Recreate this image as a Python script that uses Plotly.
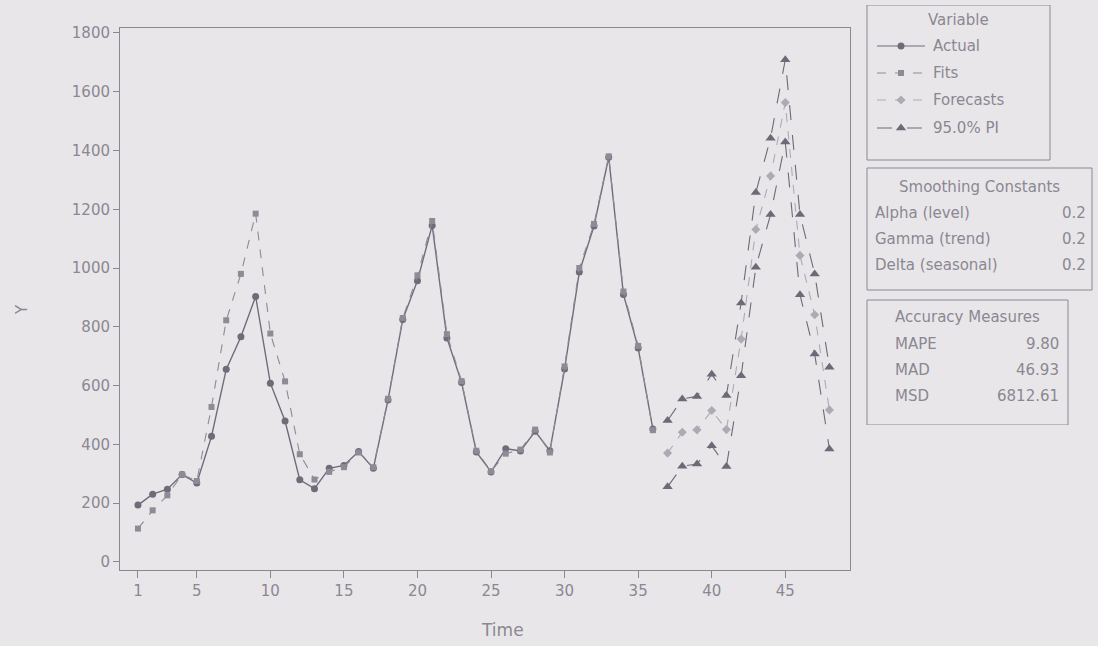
import plotly.graph_objects as go

# ---------------- data ----------------
time_hist = list(range(1, 37))
actual = [193, 230, 247, 297, 268, 427, 655, 766, 903, 608, 479, 279,
          249, 318, 328, 375, 318, 551, 825, 957, 1145, 762, 610, 374,
          306, 385, 377, 444, 378, 656, 986, 1143, 1377, 910, 728, 452]
fits = [113, 175, 226, 297, 275, 527, 822, 980, 1185, 777, 614, 366,
        280, 306, 322, 372, 322, 555, 830, 975, 1160, 775, 615, 378,
        308, 368, 382, 450, 372, 665, 1000, 1150, 1380, 920, 735, 448]

time_fc = list(range(37, 49))
forecasts = [370, 441, 449, 515, 450, 758, 1131, 1313, 1563, 1043, 841, 517]
pi_upper = [481, 554, 563, 638, 566, 881, 1257, 1442, 1709, 1182, 980, 662]
pi_lower = [255, 325, 333, 395, 324, 633, 1003, 1182, 1429, 909, 707, 384]

x_ticks = [1, 5, 10, 15, 20, 25, 30, 35, 40, 45]
y_ticks = [0, 200, 400, 600, 800, 1000, 1200, 1400, 1600, 1800]

smoothing = [("Alpha (level)", "0.2"), ("Gamma (trend)", "0.2"), ("Delta (seasonal)", "0.2")]
accuracy = [("MAPE", "9.80"), ("MAD", "46.93"), ("MSD", "6812.61")]

# ---------------- styles ----------------
BG = "#e9e6ea"
GRID = "#8a8890"
TXT = "#8a8891"
FONT = "DejaVu Sans"
C_ACT = "#6e6c78"
C_FIT = "#8e8a96"
C_FC = "#aeaab4"
C_PI = "#6c6a76"

fig = go.Figure()

# main traces
fig.add_trace(go.Scatter(x=time_hist, y=actual, mode="lines+markers", name="Actual",
                         line=dict(color=C_ACT, width=1.4),
                         marker=dict(symbol="circle", size=7, color=C_ACT)))
fig.add_trace(go.Scatter(x=time_hist, y=fits, mode="lines+markers", name="Fits",
                         line=dict(color=C_FIT, width=1.1, dash="dash"),
                         marker=dict(symbol="square", size=6, color=C_FIT)))
fig.add_trace(go.Scatter(x=time_fc, y=forecasts, mode="lines+markers", name="Forecasts",
                         line=dict(color=C_FC, width=1.1, dash="dash"),
                         marker=dict(symbol="diamond", size=7, color=C_FC)))
fig.add_trace(go.Scatter(x=time_fc, y=pi_upper, mode="lines+markers", name="95.0% PI",
                         line=dict(color=C_PI, width=1.1, dash="longdash"),
                         marker=dict(symbol="triangle-up", size=9, color=C_PI)))
fig.add_trace(go.Scatter(x=time_fc, y=pi_lower, mode="lines+markers", name="95.0% PI",
                         line=dict(color=C_PI, width=1.1, dash="longdash"),
                         marker=dict(symbol="triangle-up", size=9, color=C_PI)))

# ---------------- side panels (pixel-like coordinates on x2/y2) ----------------
W, H = 1098, 646
ML, MR, MT, MB = 120, 2, 5, 76
PW, PH = W - ML - MR, H - MT - MB
plot_right, plot_top, plot_bottom = 850, 28, 570

def px_x(px):
    return (px - ML) / PW

def px_y(py):
    return (H - MB - py) / PH

panel_x0, panel_x1 = 860, 1094
panel_y0, panel_y1 = 5, 425

legend_rows = [
    ("Actual", C_ACT, "circle", 7, "solid", 46),
    ("Fits", C_FIT, "square", 6, "dash", 73),
    ("Forecasts", C_FC, "diamond", 7, "dash", 100),
    ("95.0% PI", C_PI, "triangle-up", 9, "longdash", 128),
]
for label, col, sym, sz, dash, yy in legend_rows:
    fig.add_trace(go.Scatter(x=[877, 925], y=[yy, yy], mode="lines", xaxis="x2", yaxis="y2",
                             line=dict(color=col, width=1.2, dash=dash), showlegend=False,
                             hoverinfo="skip"))
    fig.add_trace(go.Scatter(x=[901], y=[yy], mode="markers", xaxis="x2", yaxis="y2",
                             marker=dict(color=col, symbol=sym, size=sz), showlegend=False,
                             hoverinfo="skip"))

annotations = []
def txt(x, y, s, anchor="left", size=15):
    annotations.append(dict(x=x, y=y, xref="x2", yref="y2", text=s, showarrow=False,
                            xanchor=anchor, yanchor="middle",
                            font=dict(family=FONT, size=size, color=TXT)))

txt(958, 20, "Variable", "center")
for label, col, sym, sz, dash, yy in legend_rows:
    txt(931, yy, label)

txt(979, 187, "Smoothing Constants", "center")
for i, (k, v) in enumerate(smoothing):
    yy = 213 + 26 * i
    txt(873, yy, k)
    txt(1088, yy, v, "right")

txt(967, 317, "Accuracy Measures", "center")
for i, (k, v) in enumerate(accuracy):
    yy = 344 + 26 * i
    txt(893, yy, k)
    txt(1061, yy, v, "right")

shapes = []
for (x0, y0, x1, y1) in [(867, 5, 1050, 160), (867, 168, 1092, 290), (867, 300, 1068, 425)]:
    shapes.append(dict(type="rect", xref="x2", yref="y2", x0=x0, y0=y0, x1=x1, y1=y1,
                       line=dict(color=GRID, width=1), fillcolor="rgba(0,0,0,0)"))

# axis titles
annotations.append(dict(x=px_x(502), y=px_y(630), xref="paper", yref="paper", text="Time",
                        showarrow=False, xanchor="center", yanchor="middle",
                        font=dict(family=FONT, size=17, color=TXT)))
annotations.append(dict(x=px_x(22), y=px_y(310), xref="paper", yref="paper", text="Y",
                        showarrow=False, textangle=-90, xanchor="center", yanchor="middle",
                        font=dict(family=FONT, size=15, color=TXT)))

fig.update_layout(
    width=W, height=H,
    margin=dict(l=ML, r=MR, t=MT, b=MB),
    paper_bgcolor=BG, plot_bgcolor=BG,
    showlegend=False,
    font=dict(family=FONT, size=15, color=TXT),
    xaxis=dict(domain=[0, px_x(plot_right)], range=[-0.22, 49.4],
               tickvals=x_ticks, ticks="outside", ticklen=7, tickcolor=GRID,
               showline=True, linecolor=GRID, linewidth=1, mirror=True,
               showgrid=False, zeroline=False,
               tickfont=dict(family=FONT, size=15, color=TXT)),
    yaxis=dict(domain=[px_y(plot_bottom), px_y(plot_top)], range=[-28, 1817],
               tickvals=y_ticks, ticks="outside", ticklen=6, tickcolor=GRID,
               showline=True, linecolor=GRID, linewidth=1, mirror=True,
               showgrid=False, zeroline=False,
               tickfont=dict(family=FONT, size=15, color=TXT)),
    xaxis2=dict(domain=[px_x(panel_x0), px_x(panel_x1)], range=[panel_x0, panel_x1],
                visible=False, fixedrange=True),
    yaxis2=dict(domain=[px_y(panel_y1), px_y(panel_y0)], range=[panel_y1, panel_y0],
                visible=False, fixedrange=True),
    annotations=annotations,
    shapes=shapes,
)

fig.write_html("out.html",
               config={"displayModeBar": False},
               post_script="document.body.style.margin='0px';document.body.style.overflow='hidden';document.body.style.background='" + BG + "';")
